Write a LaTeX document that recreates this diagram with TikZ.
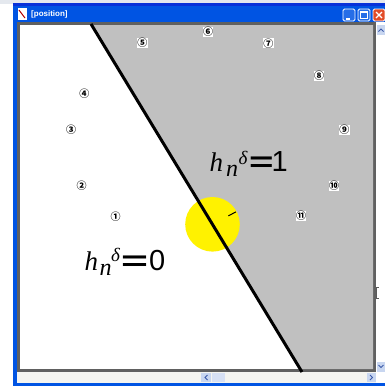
\documentclass[tikz,border=0pt]{standalone}
\usepackage{fontspec}
\setmainfont{Liberation Serif}
\setsansfont{Liberation Sans}
\newfontfamily\cjkmark{Noto Sans CJK SC}
\usetikzlibrary{calc}
\definecolor{xpblue}{RGB}{0,84,227}
\definecolor{xpdark}{RGB}{8,49,217}
\definecolor{framegray}{RGB}{96,96,96}
\definecolor{regiongray}{RGB}{192,192,192}
\definecolor{barlight}{RGB}{244,244,240}
\definecolor{closered}{RGB}{226,76,40}
\definecolor{topstrip}{RGB}{228,232,238}
\definecolor{sbbtn}{RGB}{200,214,240}
\definecolor{sbthumb}{RGB}{214,224,244}
\definecolor{sbarrow}{RGB}{60,90,170}
\definecolor{markgray}{RGB}{90,90,90}
\tikzset{
  marker/.style={font=\cjkmark\bfseries\fontsize{10}{10}\selectfont, fill=white, inner sep=0.3pt, text=black},
  lblit/.style={anchor=base west, inner sep=0pt, font=\rmfamily\itshape\fontsize{27}{27}\selectfont},
  lblsub/.style={anchor=base west, inner sep=0pt, font=\rmfamily\itshape\fontsize{24}{24}\selectfont},
  lblsup/.style={anchor=base west, inner sep=0pt, font=\rmfamily\itshape\fontsize{19}{19}\selectfont},
  lbleq/.style={anchor=base, inner sep=0pt, font=\sffamily\bfseries\fontsize{28}{28}\selectfont},
  lbldig/.style={anchor=base west, inner sep=0pt, font=\sffamily\fontsize{29}{29}\selectfont},
  winbtn/.style={draw=white, line width=0.8pt, rounded corners=1.5pt, minimum width=12pt, minimum height=12pt, inner sep=0pt},
}
\begin{document}
\begin{tikzpicture}[x=1pt,y=-1pt]
\useasboundingbox (0,0) rectangle (385,389);
% background outside window
\fill[white] (0,0) rectangle (385,389);
\fill[topstrip] (0,0) rectangle (385,4);
% window frame (blue)
\fill[xpblue] (13,3) rectangle (385,386);
\fill[xpdark] (13,3) rectangle (385,6);
% title
\node[anchor=west, text=white, font=\sffamily\bfseries\fontsize{8}{8}\selectfont, inner sep=0pt] (title) at (31,14) {[position]};
% icon
\fill[white] (18,8) rectangle (27,20);
\draw[red!70!black, line width=1pt] (19,10) -- (25,18);
% buttons
\node[winbtn, fill=xpblue!85!white] (bmin) at (349,15) {};
\fill[white] ($(bmin.center)+(-3,3)$) rectangle ($(bmin.center)+(1,4.5)$);
\node[winbtn, fill=xpblue!85!white] (bmax) at (364,15) {};
\draw[white, line width=0.7pt] ($(bmax.center)+(-3.5,-3.5)$) rectangle ($(bmax.center)+(3.5,3.5)$);
\draw[white, line width=1.4pt] ($(bmax.center)+(-3.5,-3.2)$) -- ($(bmax.center)+(3.5,-3.2)$);
\node[winbtn, fill=closered] (bclose) at (379,15) {};
\draw[white, line width=1.3pt] ($(bclose.center)+(-3,-3)$) -- ($(bclose.center)+(3,3)$) ($(bclose.center)+(-3,3)$) -- ($(bclose.center)+(3,-3)$);
% scrollbars
\fill[barlight] (17,372) rectangle (385,383);
\fill[white] (376,22) rectangle (385,383);
\fill[sbbtn] (377,25) rectangle (385,35);
\draw[sbarrow, line width=0.8pt] (378.5,31.5) -- (381,29) -- (383.5,31.5);
\fill[sbbtn] (377,362) rectangle (385,372);
\draw[sbarrow, line width=0.8pt] (378.5,365) -- (381,367.5) -- (383.5,365);
\fill[sbbtn] (201,373) rectangle (211,382);
\draw[sbarrow, line width=0.9pt] (207.5,375) -- (205,377.5) -- (207.5,380);
\fill[sbthumb] (212,373) rectangle (225,382);
\fill[sbbtn] (367,373) rectangle (376,382);
\draw[sbarrow, line width=0.9pt] (370,375) -- (372.5,377.5) -- (370,380);
\draw[markgray, line width=0.8pt] (378.5,287) -- (376.8,287) -- (376.8,298) -- (378.5,298);
% client area
\fill[framegray] (17,22) rectangle (376,372);
\fill[white] (20,25) rectangle (373,369);
\fill[regiongray] (91.5,25) -- (373,25) -- (373,369) -- (300.5,369) -- cycle;
% yellow disc
\fill[yellow] (212.5,224.3) circle (27.3);
\draw[black, line width=1pt] ($(212.5,224.3)+(-28:18)$) -- ($(212.5,224.3)+(-28:26.5)$);
% dividing line
\coordinate (ltop) at (91,24);
\coordinate (lbot) at (302,372);
\draw[black, line width=3pt] (ltop) -- (lbot);
% markers
\node[marker] (m1) at (115.7,216.7) {①};
\node[marker] (m2) at (81.7,186) {②};
\node[marker] (m3) at (71,130) {③};
\node[marker] (m4) at (84.3,93.3) {④};
\node[marker] (m5) at (142.3,42.7) {⑤};
\node[marker] (m6) at (208,31.7) {⑥};
\node[marker] (m7) at (268.3,43.3) {⑦};
\node[marker] (m8) at (319,76) {⑧};
\node[marker] (m9) at (344.3,130) {⑨};
\node[marker] (m10) at (334,186) {⑩};
\node[marker] (m11) at (301,216) {⑪};
% labels
\node[lblit] (h1) at (209.5,171.7) {h};
\node[lblsub] (n1) at (226,176.7) {n};
\node[lblsup] (d1) at (238.5,164) {δ};
\node[lbleq] (e1) at (261.5,171.7) {\scalebox{1.5}[1]{=}};
\node[lbldig] (one) at (271.5,171.7) {1};
\node[lblit] (h2) at (84.5,270) {h};
\node[lblsub] (n2) at (99.5,275) {n};
\node[lblsup] (d2) at (111,261.7) {δ};
\node[lbleq] (e2) at (134.5,270) {\scalebox{1.65}[1]{=}};
\node[lbldig] (zero) at (148.8,270) {0};
\end{tikzpicture}
\end{document}
